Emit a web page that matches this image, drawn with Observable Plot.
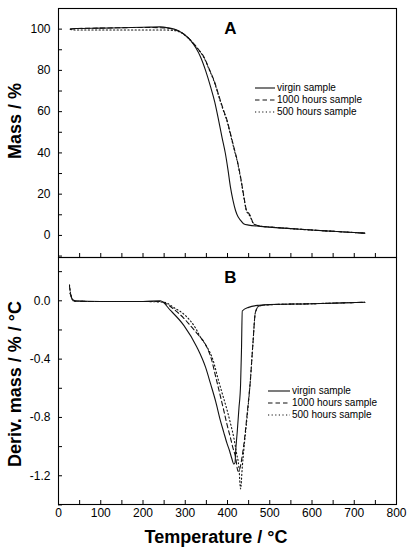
<!DOCTYPE html>
<html>
<head>
<meta charset="utf-8">
<script src="https://cdn.jsdelivr.net/npm/d3@7"></script>
<script src="https://cdn.jsdelivr.net/npm/@observablehq/plot@0.6"></script>
<style>
  html, body { margin: 0; padding: 0; background: #fff; }
  #wrap { position: relative; width: 410px; height: 550px; overflow: hidden; font-family: "Liberation Sans", Arial, sans-serif; color: #000; }
  #wrap > svg { position: absolute; left: 0; }
  .ttl { position: absolute; font-weight: bold; font-size: 18px; line-height: 18px; white-space: nowrap; }
  .rot { transform: translate(-50%, -50%) rotate(-90deg); }
  .panel { position: absolute; font-weight: bold; font-size: 17px; line-height: 17px; transform: translateX(-50%); }
  .legend { position: absolute; font-size: 10px; line-height: 12px; white-space: nowrap; }
  .legend .row { display: flex; align-items: center; height: 12px; }
  .legend svg { position: static; margin-right: 2px; }
</style>
</head>
<body>
<div id="wrap"></div>
<script>
// ---- Data ----
const seriesNames = ["virgin sample", "1000 hours sample", "500 hours sample"];

// Mass (%) vs temperature (°C)
const massT_virgin = [28, 40, 100, 150, 200, 241, 260, 281, 297, 312, 325, 336, 348, 360, 370, 379, 387, 395, 401, 407, 413, 419, 425, 431, 438, 450, 478, 500, 550, 600, 650, 700, 725];
const massV_virgin = [100.0, 100.3, 100.5, 100.7, 100.9, 101.1, 100.6, 99.5, 97.5, 94.7, 91.0, 86.6, 80.0, 72.0, 64.5, 55.8, 47.5, 39.7, 32.0, 23.4, 17.0, 12.1, 9.0, 7.3, 5.7, 5.0, 4.4, 4.0, 3.3, 2.6, 2.0, 1.4, 1.1];

const massT_1000 = [28, 40, 100, 150, 200, 250, 270, 289, 305, 320, 332, 344, 356, 368, 383, 391, 399, 405, 411, 417, 423, 427, 431, 435, 439, 445, 450, 454, 458, 462, 478, 500, 550, 600, 650, 700, 725];
const massV_1000 = [100.0, 100.3, 100.5, 100.7, 100.8, 100.6, 100.0, 98.7, 96.2, 93.0, 90.0, 86.6, 81.0, 75.2, 65.5, 60.5, 55.8, 51.0, 46.1, 41.2, 36.4, 32.5, 28.3, 23.5, 18.6, 12.1, 10.8, 9.5, 7.3, 5.7, 4.5, 4.1, 3.3, 2.6, 2.0, 1.4, 1.1];

const massT_500 = [28, 40, 100, 150, 200, 250, 270, 289, 305, 320, 332, 344, 356, 368, 383, 391, 399, 405, 411, 417, 423, 427, 431, 435, 439, 445, 450, 454, 458, 462, 478, 500, 550, 600, 650, 700, 725];
const massV_500 = [99.8, 99.6, 99.6, 99.6, 99.6, 99.6, 99.4, 98.4, 96.0, 92.8, 89.8, 86.3, 80.7, 74.8, 65.0, 60.0, 55.3, 50.5, 45.6, 40.7, 36.0, 32.0, 27.8, 23.0, 18.0, 11.8, 10.3, 9.0, 7.0, 5.5, 4.5, 4.1, 3.3, 2.6, 2.0, 1.4, 1.1];

// Derivative mass (%/°C) vs temperature (°C)
const derivT_virgin = [27, 29, 31, 35, 40, 100, 200, 241, 265, 297, 328, 348, 360, 372, 383, 391, 399, 405, 410, 415, 418, 419, 423, 427, 431, 433, 435, 450, 475, 500, 600, 725];
const derivV_virgin = [0.05, 0.04, 0.02, 0.005, 0.0, -0.005, -0.005, 0.0, -0.066, -0.17, -0.32, -0.455, -0.57, -0.69, -0.82, -0.90, -0.98, -1.03, -1.08, -1.12, -1.11, -1.05, -0.90, -0.74, -0.57, -0.35, -0.07, -0.045, -0.03, -0.025, -0.02, -0.01];

const derivT_1000 = [26, 28, 31, 35, 40, 100, 200, 241, 260, 277, 300, 312, 330, 348, 362, 372, 382, 391, 399, 407, 413, 419, 425, 431, 435, 441, 447, 454, 460, 466, 475, 500, 600, 725];
const derivV_1000 = [0.10, 0.06, 0.02, 0.0, -0.003, -0.005, -0.005, -0.005, -0.03, -0.067, -0.13, -0.17, -0.23, -0.30, -0.40, -0.52, -0.64, -0.75, -0.85, -0.94, -1.01, -1.07, -1.17, -1.13, -1.06, -0.93, -0.76, -0.55, -0.30, -0.08, -0.035, -0.027, -0.02, -0.01];

const derivT_500 = [26, 28, 31, 35, 40, 100, 200, 250, 275, 300, 325, 336, 350, 365, 379, 389, 399, 407, 415, 421, 427, 431, 435, 441, 447, 454, 460, 466, 475, 500, 600, 725];
const derivV_500 = [0.11, 0.06, 0.02, 0.0, -0.003, -0.005, -0.005, -0.01, -0.05, -0.10, -0.19, -0.25, -0.31, -0.40, -0.55, -0.65, -0.75, -0.84, -0.94, -1.04, -1.14, -1.29, -1.14, -0.95, -0.78, -0.55, -0.30, -0.08, -0.035, -0.027, -0.02, -0.01];

const xTicksMajor = [0, 100, 200, 300, 400, 500, 600, 700, 800];
const xTicksAll = d3.range(0, 801, 50);
const massTicksMajor = [0, 20, 40, 60, 80, 100];
const massTicksAll = d3.range(-10, 111, 10);
const derivTicksMajor = [0.0, -0.4, -0.8, -1.2];
const derivTicksAll = [-1.4, -1.2, -1.0, -0.8, -0.6, -0.4, -0.2, 0.0, 0.2];

// ---- Build tables ----
const zip = (ts, vs, s) => ts.map((t, i) => ({ T: t, v: vs[i], s }));
const massData = [
  ...zip(massT_virgin, massV_virgin, seriesNames[0]),
  ...zip(massT_1000, massV_1000, seriesNames[1]),
  ...zip(massT_500, massV_500, seriesNames[2])
];
const derivData = [
  ...zip(derivT_virgin, derivV_virgin, seriesNames[0]),
  ...zip(derivT_1000, derivV_1000, seriesNames[1]),
  ...zip(derivT_500, derivV_500, seriesNames[2])
];

const dashes = { [seriesNames[0]]: null, [seriesNames[1]]: "4.5,3", [seriesNames[2]]: "1.2,2.4" };

function lines(data) {
  return seriesNames.map(name => Plot.line(data.filter(d => d.s === name), {
    x: "T", y: "v", stroke: "#111", strokeWidth: 1.1,
    strokeDasharray: dashes[name], curve: "monotone-x"
  }));
}

const font = '"Liberation Sans", Arial, sans-serif';

const topChart = Plot.plot({
  width: 410, height: 258,
  marginLeft: 58, marginRight: 14, marginTop: 8, marginBottom: 1,
  style: { fontFamily: font, fontSize: "12px", color: "#000", background: "transparent", overflow: "visible" },
  x: { domain: [0, 800] },
  y: { domain: [-10.7, 110] },
  marks: [
    ...lines(massData),
    Plot.axisY({ ticks: massTicksAll, tickSize: -4, tickFormat: () => "", label: null }),
    Plot.axisY({ ticks: massTicksMajor, tickSize: 0, tickPadding: 8, fontSize: 12, label: null }),
    Plot.axisX({ ticks: xTicksAll, tickSize: -4, tickFormat: () => "", label: null }),
    Plot.frame({ stroke: "#000", strokeWidth: 1.1 })
  ]
});
topChart.style.top = "0px";

const bottomChart = Plot.plot({
  width: 410, height: 294,
  marginLeft: 58, marginRight: 14, marginTop: 1, marginBottom: 46,
  style: { fontFamily: font, fontSize: "12px", color: "#000", background: "transparent", overflow: "visible" },
  x: { domain: [0, 800] },
  y: { domain: [-1.397, 0.297] },
  marks: [
    ...lines(derivData),
    Plot.axisY({ ticks: derivTicksAll, tickSize: -4, tickFormat: () => "", label: null }),
    Plot.axisY({ ticks: derivTicksMajor, tickSize: 0, tickPadding: 8, fontSize: 12, tickFormat: d => d.toFixed(1), label: null }),
    Plot.axisX({ ticks: xTicksAll, tickSize: -4, tickFormat: () => "", label: null }),
    Plot.axisX({ ticks: xTicksMajor, tickSize: 0, tickPadding: 4, fontSize: 12, label: null }),
    Plot.frame({ stroke: "#000", strokeWidth: 1.1 })
  ]
});
bottomChart.style.top = "256px";

const wrap = document.getElementById("wrap");
wrap.appendChild(topChart);
wrap.appendChild(bottomChart);

function addDiv(cls, text, styles) {
  const d = document.createElement("div");
  d.className = cls;
  d.textContent = text;
  Object.assign(d.style, styles);
  wrap.appendChild(d);
  return d;
}

addDiv("ttl rot", "Mass / %", { left: "15px", top: "121px" });
addDiv("ttl rot", "Deriv. mass / % / °C", { left: "15px", top: "384px" });
addDiv("ttl", "Temperature / °C", { left: "216px", top: "528px", transform: "translateX(-50%)" });
addDiv("panel", "A", { left: "230.5px", top: "20px" });
addDiv("panel", "B", { left: "230.5px", top: "269px" });

function legend(left, topY, lineW) {
  const lg = document.createElement("div");
  lg.className = "legend";
  lg.style.left = left + "px";
  lg.style.top = topY + "px";
  seriesNames.forEach(name => {
    const row = document.createElement("div");
    row.className = "row";
    const svg = d3.create("svg").attr("width", lineW).attr("height", 12);
    svg.append("line").attr("x1", 0).attr("x2", lineW).attr("y1", 6).attr("y2", 6)
      .attr("stroke", "#111").attr("stroke-width", 1.1)
      .attr("stroke-dasharray", dashes[name]);
    row.appendChild(svg.node());
    const span = document.createElement("span");
    span.textContent = name;
    row.appendChild(span);
    lg.appendChild(row);
  });
  wrap.appendChild(lg);
}
legend(255, 82, 20);
legend(268, 385, 22);
</script>
</body>
</html>
